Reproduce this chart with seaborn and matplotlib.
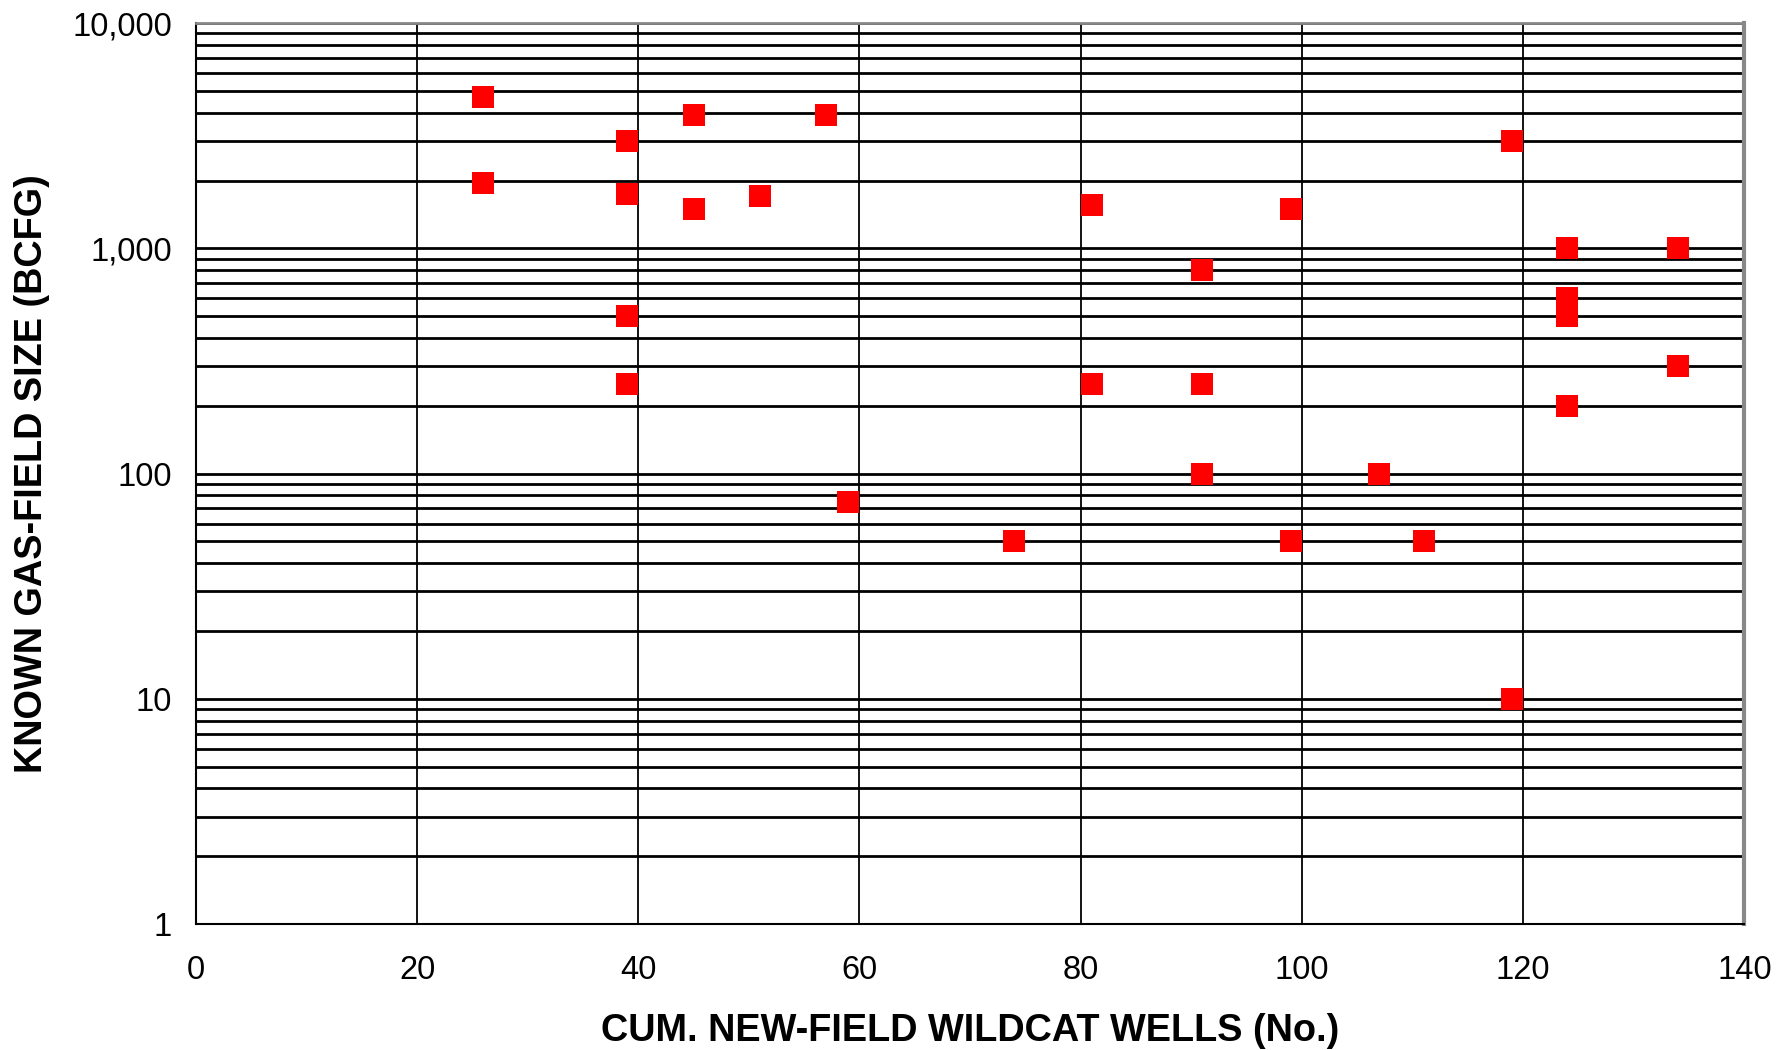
import numpy as np
import pandas as pd
import matplotlib
matplotlib.use("Agg")
import matplotlib.pyplot as plt
import matplotlib.ticker as mticker
import seaborn as sns

# --- data ---
wells = [26, 26, 39, 39, 39, 39, 45, 45, 51, 57, 59, 74, 81, 81, 91, 91, 91,
         99, 99, 107, 111, 119, 119, 124, 124, 124, 124, 134, 134]
field_size = [4700, 1950, 3000, 1750, 500, 250, 3900, 1500, 1700, 3900, 75, 50,
              1550, 250, 800, 250, 100, 1500, 50, 100, 50, 3000, 10, 1000, 600,
              500, 200, 1000, 300]
x_ticks = [0, 20, 40, 60, 80, 100, 120, 140]
y_major = [1, 10, 100, 1000, 10000]

df = pd.DataFrame({"wells": wells, "size": field_size})

sns.set_style("white")
plt.rcParams["font.family"] = ["Liberation Sans", "DejaVu Sans"]
plt.rcParams["text.color"] = "black"
plt.rcParams["axes.labelcolor"] = "black"
plt.rcParams["xtick.color"] = "black"
plt.rcParams["ytick.color"] = "black"

fig = plt.figure(figsize=(17.8, 10.5), dpi=100)
ax = fig.add_axes([0.110, 0.120, 0.870, 0.858])

ax.set_yscale("log")
ax.set_xlim(0, 140)
ax.set_ylim(1, 10000)

# grid: every decade and sub-decade line, vertical every 20
ax.yaxis.set_major_locator(mticker.FixedLocator(y_major))
ax.yaxis.set_minor_locator(mticker.LogLocator(base=10, subs=np.arange(2, 10)))
ax.yaxis.set_minor_formatter(mticker.NullFormatter())
ax.yaxis.set_major_formatter(mticker.FuncFormatter(lambda v, p: f"{v:,.0f}"))
ax.set_xticks(x_ticks)
ax.grid(True, which="both", axis="y", color="black", linewidth=2.0)
ax.grid(True, which="major", axis="x", color="black", linewidth=1.3)
ax.set_axisbelow(True)

sns.scatterplot(data=df, x="wells", y="size", marker="s", s=235, color="#ff0000",
                linewidth=0, ax=ax, zorder=3, clip_on=False)

for side in ["left", "bottom"]:
    ax.spines[side].set_color("black")
    ax.spines[side].set_linewidth(1.5)
ax.spines["top"].set_color("#888888")
ax.spines["top"].set_linewidth(2)
ax.spines["right"].set_color("#888888")
ax.spines["right"].set_linewidth(3)

ax.tick_params(axis="both", which="major", direction="out", length=9, width=1.3,
               color="black", labelcolor="black", labelsize=23.5, pad=8)
ax.tick_params(axis="y", which="minor", length=0)
ax.tick_params(axis="x", pad=13)

ax.set_xlabel("CUM. NEW-FIELD WILDCAT WELLS (No.)", fontsize=27.3, fontweight="bold",
              labelpad=20, color="black")
ax.set_ylabel("KNOWN GAS-FIELD SIZE (BCFG)", fontsize=27.3, fontweight="bold",
              labelpad=16, color="black")

fig.savefig("out.png", dpi=100)
